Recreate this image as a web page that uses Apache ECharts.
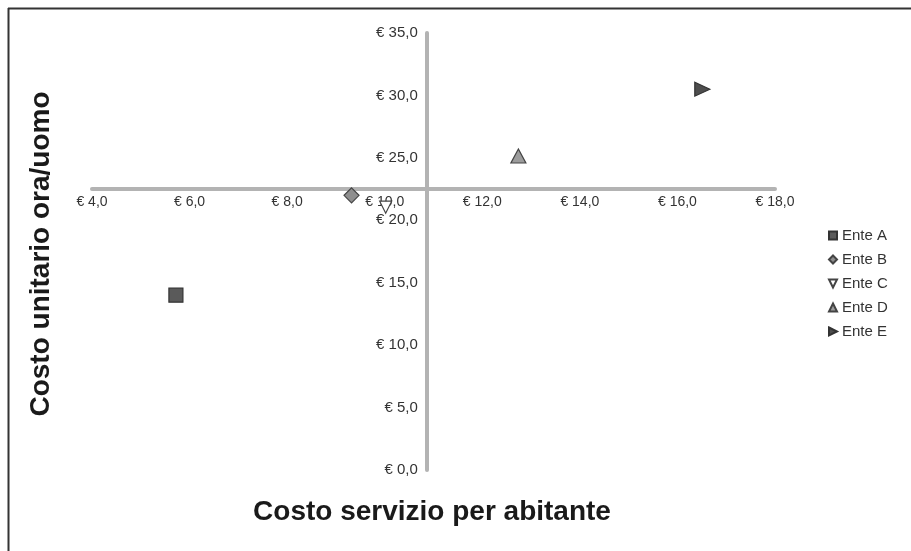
<!DOCTYPE html>
<html>
<head>
<meta charset="utf-8">
<script src="https://cdn.jsdelivr.net/npm/echarts@6/dist/echarts.min.js"></script>
<style>
html,body{margin:0;padding:0;background:#fff;}
#chart{width:911px;height:551px;}
</style>
</head>
<body>
<div id="chart"></div>
<script>
// Data
var seriesNames = ['Ente A', 'Ente B', 'Ente C', 'Ente D', 'Ente E'];
var xValues = [5.72, 9.32, 10.02, 12.74, 16.51];   // Costo servizio per abitante (€)
var yValues = [14.0, 22.0, 21.05, 25.15, 30.5];    // Costo unitario ora/uomo (€)
var xTicks = [4, 6, 8, 10, 12, 14, 16, 18];
var yTicks = [0, 5, 10, 15, 20, 25, 30, 35];

var symbols = ['rect', 'diamond', 'path://M0,0 L10,0 L5,10 Z', 'triangle', 'path://M0,0 L10,5 L0,10 Z'];
var symbolSizes = [14, [15, 15], [12, 12], [15, 14], [15, 14]];
var fills = ['#5a5a5a', '#8e8e8e', '#ffffff', '#9c9c9c', '#4e4e4e'];
var borders = ['#333333', '#444444', '#444444', '#444444', '#333333'];

var xMin = xTicks[0], xMax = xTicks[xTicks.length - 1];
var yMin = yTicks[0], yMax = yTicks[yTicks.length - 1];

// axes cross at the average of the points
function mean(a){ var s = 0; for (var i = 0; i < a.length; i++) s += a[i]; return s / a.length; }
var crossX = mean(xValues), crossY = mean(yValues);

var gridLeft = 92, gridRight = 136, gridTop = 33, gridBottom = 81;
var W = 911, H = 551;
var gw = W - gridLeft - gridRight, gh = H - gridTop - gridBottom;
var xOffset = -gh * (crossY - yMin) / (yMax - yMin);
var yOffset = -gw * (crossX - xMin) / (xMax - xMin);

function euro(v){ return '€ ' + v.toFixed(1).replace('.', ','); }

var chart = echarts.init(document.getElementById('chart'), null, {renderer: 'canvas'});
var series = seriesNames.map(function (n, i) {
  return {
    name: n,
    type: 'scatter',
    symbol: symbols[i],
    symbolSize: symbolSizes[i],
    itemStyle: {color: fills[i], borderColor: borders[i], borderWidth: 1.2, opacity: 1},
    data: [[xValues[i], yValues[i]]],
    z: 5
  };
});

chart.setOption({
  animation: false,
  backgroundColor: '#ffffff',
  textStyle: {fontFamily: 'Liberation Sans, Arial, sans-serif'},
  grid: {left: gridLeft, right: gridRight, top: gridTop, bottom: gridBottom, containLabel: false},
  xAxis: {
    type: 'value', min: xMin, max: xMax, interval: 2, position: 'bottom',
    offset: xOffset,
    axisLine: {show: true, onZero: false, lineStyle: {color: '#b3b3b3', width: 4}},
    axisTick: {show: false},
    splitLine: {show: false},
    axisLabel: {formatter: euro, fontSize: 14, color: '#333', margin: 7, showMinLabel: true, showMaxLabel: true}
  },
  yAxis: {
    type: 'value', min: yMin, max: yMax, interval: 5, position: 'left',
    offset: yOffset,
    axisLine: {show: true, onZero: false, lineStyle: {color: '#b3b3b3', width: 4}},
    axisTick: {show: false},
    splitLine: {show: false},
    axisLabel: {formatter: euro, fontSize: 15, color: '#333', margin: 9, showMinLabel: true, showMaxLabel: true}
  },
  legend: {
    orient: 'vertical', left: 823, top: 223,
    itemWidth: 8, itemHeight: 8, itemGap: 9,
    data: seriesNames,
    textStyle: {fontSize: 15, color: '#333', lineHeight: 15}
  },
  graphic: [
    {type: 'line', shape: {x1: 8, y1: 8.5, x2: 911, y2: 8.5}, style: {stroke: '#333', lineWidth: 2}},
    {type: 'line', shape: {x1: 8.5, y1: 8, x2: 8.5, y2: 551}, style: {stroke: '#333', lineWidth: 2}},
    {type: 'text', x: 432, y: 512, style: {text: 'Costo servizio per abitante', font: 'bold 28px "Liberation Sans", Arial, sans-serif', fill: '#1a1a1a', align: 'center', verticalAlign: 'middle'}},
    {type: 'text', rotation: Math.PI / 2, x: 41, y: 254, style: {text: 'Costo unitario ora/uomo', font: 'bold 28px "Liberation Sans", Arial, sans-serif', fill: '#1a1a1a', align: 'center', verticalAlign: 'middle'}}
  ],
  series: series
});
</script>
</body>
</html>
